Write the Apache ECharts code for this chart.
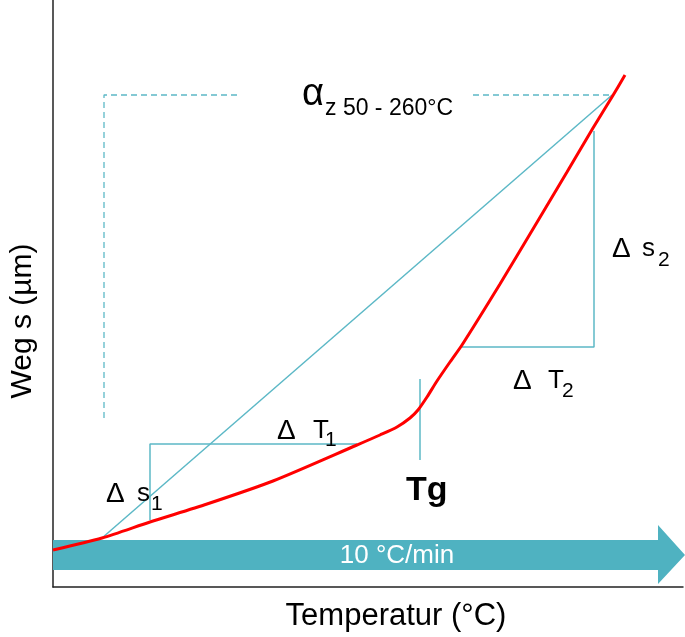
<!DOCTYPE html>
<html>
<head>
<meta charset="utf-8">
<script src="https://cdn.jsdelivr.net/npm/echarts@6/dist/echarts.min.js"></script>
<style>html,body{margin:0;padding:0;background:#fff}#c{width:685px;height:637px}</style>
</head>
<body>
<div id="c"></div>
<script>
// Data (abstract units: x = temperature scale, y = displacement scale)
const curveData = [[0,37],[49,49],[97,65],[154,83],[220,106],[304,142],[327,152],[344,160],[357,169],[365,177],[374,190],[384,206],[397,225],[409,242],[447,303],[480,358],[514,415],[540,459],[559,490],[572,512]];
const secantLine = [[49,49],[559,492]];
const box1 = [[97,67],[97,143],[304,143]];
const tgLine = [[367,127],[367,208]];
const box2 = [[409,240],[541,240],[541,456]];
const dashLeft = [[51,169],[51,492],[184,492]];
const dashRight = [[420,492],[558,492]];
const arrowPath = [[0,17],[605,17],[605,3],[632,32],[605,62],[605,47],[0,47]];

const FONT = '"Liberation Sans", Arial, sans-serif';
const TEAL = '#5cb8c6';
const ARROW = '#4fb2c1';

function lineSeries(data, opts) {
  return Object.assign({
    type: 'line', data: data, symbol: 'none', silent: true, animation: false,
    lineStyle: { color: TEAL, width: 1.5 }, z: 3
  }, opts || {});
}

function txt(text, x, y, size, extra) {
  return {
    type: 'text', x: x, y: y, z: 100,
    style: Object.assign({
      text: text, fill: '#000', font: size + 'px ' + FONT,
      textAlign: 'left', align: 'left', textVerticalAlign: 'middle', verticalAlign: 'middle'
    }, extra || {})
  };
}

const chart = echarts.init(document.getElementById('c'), null, { renderer: 'canvas' });
chart.setOption({
  animation: false,
  backgroundColor: '#fff',
  grid: { left: 53, right: 2, top: 0, bottom: 50 },
  xAxis: {
    type: 'value', min: 0, max: 630,
    axisLine: { show: true, lineStyle: { color: '#222', width: 1.5 } },
    axisTick: { show: false }, axisLabel: { show: false }, splitLine: { show: false }
  },
  yAxis: {
    type: 'value', min: 0, max: 587,
    axisLine: { show: true, lineStyle: { color: '#222', width: 1.5 } },
    axisTick: { show: false }, axisLabel: { show: false }, splitLine: { show: false }
  },
  series: [
    {
      type: 'custom', silent: true, z: 1, clip: false,
      data: [0],
      renderItem: function (params, api) {
        const pts = arrowPath.map(p => api.coord(p));
        return { type: 'polygon', shape: { points: pts }, style: { fill: ARROW } };
      }
    },
    lineSeries(secantLine),
    lineSeries(box1),
    lineSeries(tgLine),
    lineSeries(box2),
    lineSeries(dashLeft, { lineStyle: { color: TEAL, width: 1.3, type: [6, 4] } }),
    lineSeries(dashRight, { lineStyle: { color: TEAL, width: 1.3, type: [6, 4] } }),
    lineSeries(curveData, { smooth: 0.25, z: 5, lineStyle: { color: '#ff0000', width: 3 } })
  ],
  graphic: [
    txt('10 °C/min', 397, 556, 26, { fill: '#fff', textAlign: 'center', align: 'center' }),
    txt('Temperatur (°C)', 396, 616, 31, { textAlign: 'center', align: 'center' }),
    Object.assign(txt('Weg s (µm)', 23, 321, 30, { textAlign: 'center', align: 'center' }), { rotation: Math.PI / 2 }),
    txt('α', 302, 95, 38),
    txt('z 50 - 260°C', 325, 109, 23),
    txt('Δ', 106, 494, 28), txt('s', 137, 494, 26), txt('1', 151, 504, 21),
    txt('Δ', 277, 431, 28), txt('T', 313, 431, 26), txt('1', 325, 440, 21),
    txt('Δ', 612, 249, 28), txt('s', 642, 249, 26), txt('2', 658, 260, 21),
    txt('Δ', 513, 381, 28), txt('T', 548, 381, 26), txt('2', 562, 391, 21),
    txt('Tg', 406, 491, 34, { font: 'bold 34px ' + FONT })
  ]
});
</script>
</body>
</html>
